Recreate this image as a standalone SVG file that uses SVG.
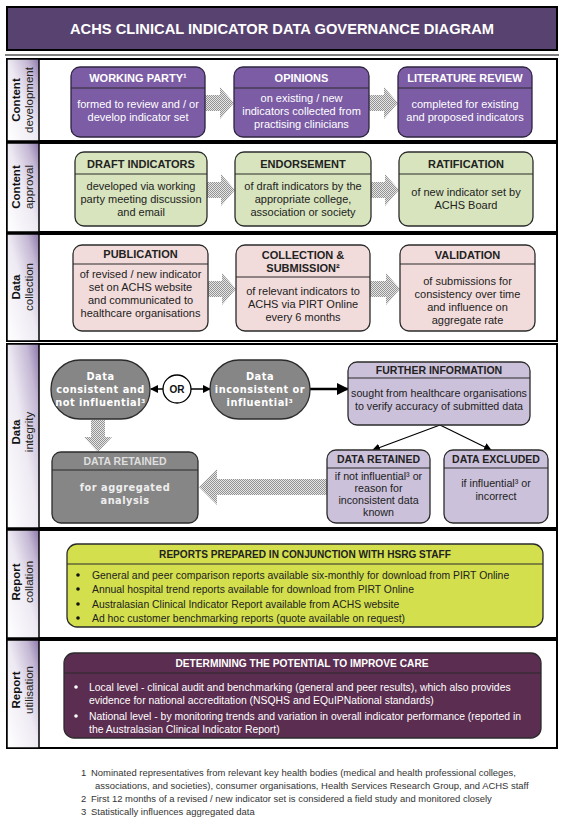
<svg xmlns="http://www.w3.org/2000/svg" width="564" height="823" viewBox="0 0 564 823">
<style>
text{font-family:"Liberation Sans",Arial,sans-serif;}
.sec{fill:#fff;stroke:#000;stroke-width:2;}
.lbl{fill:url(#lblg);stroke:#000;stroke-width:1.5;}
.lb{font-size:11.5px;font-weight:bold;fill:#111;text-anchor:middle;}
.ln{font-size:11.5px;fill:#222;text-anchor:middle;}
.p{fill:#7b5ca5;stroke:#2e2440;stroke-width:1.3;}
.g{fill:#d7e4bd;stroke:#2b2b2b;stroke-width:1.3;}
.k{fill:#f2dcdb;stroke:#2b2b2b;stroke-width:1.3;}
.v{fill:#ccc1da;stroke:#2b2b2b;stroke-width:1.3;}
.gr{fill:#868686;stroke:#2b2b2b;stroke-width:1.3;}
.y{fill:#d3df4c;stroke:#2b2b2b;stroke-width:1.3;}
.m{fill:#5b2d50;stroke:#2b2b2b;stroke-width:1.3;}
.dv{stroke:#2b2b2b;stroke-width:1.2;}
.hw{font-size:11px;font-weight:bold;fill:#fff;text-anchor:middle;}
.bw{font-size:11px;fill:#fff;text-anchor:middle;}
.hd{font-size:11px;font-weight:bold;fill:#222;text-anchor:middle;}
.bd{font-size:11px;fill:#222;text-anchor:middle;}
.hs{font-size:10.5px;font-weight:bold;fill:#222;text-anchor:middle;}
.sm{font-size:10.7px;fill:#222;text-anchor:middle;}
.st{font-family:"DejaVu Sans",Verdana,sans-serif;font-size:9.8px;font-weight:bold;fill:#fff;text-anchor:middle;letter-spacing:0.5px;}
.ha{fill:url(#hatch);}
.li{font-size:10.4px;fill:#222;}
.lw{font-size:10.4px;fill:#fff;}
.fn{font-size:9.45px;fill:#333;}
</style>
<defs>
<linearGradient id="lblg" x1="0" y1="1" x2="1" y2="0">
<stop offset="0" stop-color="#ffffff"/>
<stop offset="0.5" stop-color="#eeeaf3"/>
<stop offset="0.8" stop-color="#c4b8d4"/>
<stop offset="1" stop-color="#8c77a9"/>
</linearGradient>
<pattern id="hatch" width="2" height="2" patternUnits="userSpaceOnUse">
<rect width="2" height="2" fill="#e6e6e6"/>
<rect width="1" height="1" fill="#939393"/>
<rect x="1" y="1" width="1" height="1" fill="#939393"/>
</pattern>
<marker id="ah" markerWidth="8" markerHeight="8" refX="7" refY="4" orient="auto" markerUnits="userSpaceOnUse">
<path d="M0,0 L8,4 L0,8 z" fill="#000"/>
</marker>
<marker id="ahb" markerWidth="12" markerHeight="12" refX="11" refY="6" orient="auto" markerUnits="userSpaceOnUse">
<path d="M0,0 L12,6 L0,12 z" fill="#000"/>
</marker>
</defs>
<rect width="564" height="823" fill="#fff"/>

<g id="title">
<rect x="7" y="7" width="550" height="43" fill="#584270" stroke="#000" stroke-width="2"/>
<text x="282" y="33.5" font-size="14.7" font-weight="bold" fill="#fff" text-anchor="middle">ACHS CLINICAL INDICATOR DATA GOVERNANCE DIAGRAM</text>
</g>
<line x1="5" y1="55" x2="559" y2="55" stroke="#000" stroke-width="1.2"/>

<g id="sections">
<rect class="sec" x="7" y="59" width="550" height="82"/>
<rect class="lbl" x="7" y="59" width="32" height="82"/>
<text class="lb" transform="translate(20,100) rotate(-90)">Content</text>
<text class="ln" transform="translate(32.5,100) rotate(-90)">development</text>

<rect class="sec" x="7" y="143" width="550" height="89"/>
<rect class="lbl" x="7" y="143" width="32" height="89"/>
<text class="lb" transform="translate(20,187) rotate(-90)">Content</text>
<text class="ln" transform="translate(32.5,187) rotate(-90)">approval</text>

<rect class="sec" x="7" y="234" width="550" height="107"/>
<rect class="lbl" x="7" y="234" width="32" height="107"/>
<text class="lb" transform="translate(20,287) rotate(-90)">Data</text>
<text class="ln" transform="translate(32.5,287) rotate(-90)">collection</text>

<rect class="sec" x="7" y="344" width="550" height="184"/>
<rect class="lbl" x="7" y="344" width="32" height="184"/>
<text class="lb" transform="translate(20,432) rotate(-90)">Data</text>
<text class="ln" transform="translate(32.5,432) rotate(-90)">integrity</text>

<rect class="sec" x="7" y="530" width="550" height="108"/>
<rect class="lbl" x="7" y="530" width="32" height="108"/>
<text class="lb" transform="translate(20,582) rotate(-90)">Report</text>
<text class="ln" transform="translate(32.5,582) rotate(-90)">collation</text>

<rect class="sec" x="7" y="640" width="550" height="108"/>
<rect class="lbl" x="7" y="640" width="32" height="108"/>
<text class="lb" transform="translate(20,690) rotate(-90)">Report</text>
<text class="ln" transform="translate(32.5,690) rotate(-90)">utilisation</text>
</g>

<g id="connectors">
<path class="ha" d="M205,95 L220,95 L220,87 L234,103 L220,119 L220,111 L205,111 Z"/>
<path class="ha" d="M369,95 L384,95 L384,87 L398,103 L384,119 L384,111 L369,111 Z"/>
<path class="ha" d="M207,182 L221,182 L221,174 L235,190 L221,206 L221,198 L207,198 Z"/>
<path class="ha" d="M371,182 L385,182 L385,174 L399,190 L385,206 L385,198 L371,198 Z"/>
<path class="ha" d="M208,281 L222,281 L222,273 L236,289 L222,305 L222,297 L208,297 Z"/>
<path class="ha" d="M370,281 L386,281 L386,273 L400,289 L386,305 L386,297 L370,297 Z"/>
<path class="ha" d="M91,420 L91,437 L84,437 L98,452 L112,437 L105,437 L105,420 Z"/>
<path class="ha" d="M327,479 L217,479 L217,469 L199,487 L217,505 L217,495 L327,495 Z"/>
<line x1="163" y1="389" x2="151" y2="389" stroke="#000" stroke-width="1.5" marker-end="url(#ah)"/>
<line x1="191" y1="389" x2="210" y2="389" stroke="#000" stroke-width="1.5" marker-end="url(#ah)"/>
<line x1="310" y1="389" x2="348" y2="389" stroke="#000" stroke-width="2.5" marker-end="url(#ahb)"/>
<line x1="440" y1="425" x2="373" y2="450" stroke="#000" stroke-width="1.2" marker-end="url(#ah)"/>
<line x1="440" y1="425" x2="491" y2="450" stroke="#000" stroke-width="1.2" marker-end="url(#ah)"/>
</g>

<g id="working-party">
<rect class="p" x="71" y="67" width="134" height="70" rx="9"/>
<line class="dv" x1="71" y1="88" x2="205" y2="88"/>
<text class="hw" x="138" y="81.5">WORKING PARTY¹</text>
<text class="bw" x="138" y="108">formed  to review and / or</text>
<text class="bw" x="138" y="121">develop indicator set</text>
</g>
<g id="opinions">
<rect class="p" x="234" y="67" width="135" height="70" rx="9"/>
<line class="dv" x1="234" y1="88" x2="369" y2="88"/>
<text class="hw" x="301.5" y="81.5">OPINIONS</text>
<text class="bw" x="301.5" y="102">on existing / new</text>
<text class="bw" x="301.5" y="115">indicators collected from</text>
<text class="bw" x="301.5" y="128">practising clinicians</text>
</g>
<g id="literature-review">
<rect class="p" x="398" y="67" width="134" height="70" rx="9"/>
<line class="dv" x1="398" y1="88" x2="532" y2="88"/>
<text class="hw" x="465" y="81.5">LITERATURE REVIEW</text>
<text class="bw" x="465" y="108">completed for existing</text>
<text class="bw" x="465" y="121">and proposed indicators</text>
</g>

<g id="draft-indicators">
<rect class="g" x="75" y="152" width="132" height="74" rx="9"/>
<line class="dv" x1="75" y1="174" x2="207" y2="174"/>
<text class="hd" x="141" y="168">DRAFT INDICATORS</text>
<text class="bd" x="141" y="190">developed via working</text>
<text class="bd" x="141" y="203">party meeting discussion</text>
<text class="bd" x="141" y="216">and email</text>
</g>
<g id="endorsement">
<rect class="g" x="235" y="152" width="136" height="74" rx="9"/>
<line class="dv" x1="235" y1="174" x2="371" y2="174"/>
<text class="hd" x="303" y="168">ENDORSEMENT</text>
<text class="bd" x="303" y="190">of draft indicators by the</text>
<text class="bd" x="303" y="203">appropriate college,</text>
<text class="bd" x="303" y="216">association or society</text>
</g>
<g id="ratification">
<rect class="g" x="399" y="152" width="134" height="74" rx="9"/>
<line class="dv" x1="399" y1="174" x2="533" y2="174"/>
<text class="hd" x="466" y="168">RATIFICATION</text>
<text class="bd" x="466" y="196">of new indicator set by</text>
<text class="bd" x="466" y="209">ACHS Board</text>
</g>

<g id="publication">
<rect class="k" x="73" y="245" width="135" height="86" rx="9"/>
<line class="dv" x1="73" y1="264" x2="208" y2="264"/>
<text class="hd" x="140.5" y="258">PUBLICATION</text>
<text class="bd" x="140.5" y="278">of revised / new indicator</text>
<text class="bd" x="140.5" y="291">set on ACHS website</text>
<text class="bd" x="140.5" y="304">and communicated to</text>
<text class="bd" x="140.5" y="317">healthcare organisations</text>
</g>
<g id="collection-submission">
<rect class="k" x="236" y="245" width="134" height="86" rx="9"/>
<line class="dv" x1="236" y1="277" x2="370" y2="277"/>
<text class="hd" x="303" y="259">COLLECTION &amp;</text>
<text class="hd" x="303" y="272">SUBMISSION²</text>
<text class="bd" x="303" y="295">of relevant indicators to</text>
<text class="bd" x="303" y="308">ACHS via PIRT Online</text>
<text class="bd" x="303" y="321">every 6 months</text>
</g>
<g id="validation">
<rect class="k" x="400" y="245" width="135" height="86" rx="9"/>
<line class="dv" x1="400" y1="264" x2="535" y2="264"/>
<text class="hd" x="467.5" y="259">VALIDATION</text>
<text class="bd" x="467.5" y="285">of submissions for</text>
<text class="bd" x="467.5" y="298">consistency over time</text>
<text class="bd" x="467.5" y="311">and influence on</text>
<text class="bd" x="467.5" y="324">aggregate rate</text>
</g>

<g id="data-consistent">
<rect class="gr" x="51" y="360" width="99" height="59" rx="29"/>
<text class="st" x="100.5" y="380">Data</text>
<text class="st" x="100.5" y="393">consistent and</text>
<text class="st" x="100.5" y="406">not  influential³</text>
</g>
<g id="or">
<circle cx="177" cy="389" r="14" fill="#fff" stroke="#000" stroke-width="1.3"/>
<text x="177" y="393" font-size="10" font-weight="bold" fill="#111" text-anchor="middle">OR</text>
</g>
<g id="data-inconsistent">
<rect class="gr" x="210" y="360" width="100" height="59" rx="29"/>
<text class="st" x="260" y="380">Data</text>
<text class="st" x="260" y="393">inconsistent or</text>
<text class="st" x="260" y="406">influential³</text>
</g>
<g id="further-information">
<rect class="v" x="348" y="362" width="182" height="63" rx="9"/>
<line class="dv" x1="348" y1="378" x2="530" y2="378"/>
<text class="hs" x="439" y="373.5">FURTHER INFORMATION</text>
<text class="sm" x="439" y="397">sought from healthcare organisations</text>
<text class="sm" x="439" y="410">to verify accuracy of submitted data</text>
</g>
<g id="data-retained-grey">
<rect class="gr" x="52" y="452" width="146" height="71" rx="9"/>
<line class="dv" x1="52" y1="470" x2="198" y2="470"/>
<text x="125" y="465" font-size="10.5" font-weight="bold" fill="#dedede" text-anchor="middle">DATA RETAINED</text>
<text class="st" x="125" y="491" style="fill:#eeeeee">for aggregated</text>
<text class="st" x="125" y="504" style="fill:#eeeeee">analysis</text>
</g>
<g id="data-retained">
<rect class="v" x="327" y="450" width="103" height="73" rx="9"/>
<line class="dv" x1="327" y1="468" x2="430" y2="468"/>
<text class="hs" x="378.5" y="463">DATA RETAINED</text>
<text class="sm" x="378.5" y="480">if not influential³ or</text>
<text class="sm" x="378.5" y="492">reason for</text>
<text class="sm" x="378.5" y="504">inconsistent data</text>
<text class="sm" x="378.5" y="516">known</text>
</g>
<g id="data-excluded">
<rect class="v" x="444" y="450" width="104" height="73" rx="9"/>
<line class="dv" x1="444" y1="468" x2="548" y2="468"/>
<text class="hs" x="496" y="463">DATA EXCLUDED</text>
<text class="sm" x="496" y="487">if influential³ or</text>
<text class="sm" x="496" y="500">incorrect</text>
</g>

<g id="reports-prepared">
<rect class="y" x="67" y="544" width="476" height="83" rx="10"/>
<line class="dv" x1="67" y1="564" x2="543" y2="564"/>
<text class="hd" x="305" y="558" style="font-size:10.1px">REPORTS PREPARED IN CONJUNCTION WITH HSRG STAFF</text>
<circle cx="78" cy="575" r="1.8" fill="#111"/>
<circle cx="78" cy="589" r="1.8" fill="#111"/>
<circle cx="78" cy="604" r="1.8" fill="#111"/>
<circle cx="78" cy="618" r="1.8" fill="#111"/>
<text class="li" x="92" y="578.5">General and peer comparison reports available six-monthly for download from PIRT Online</text>
<text class="li" x="92" y="592.5">Annual hospital trend reports available for download from PIRT Online</text>
<text class="li" x="92" y="607.5">Australasian Clinical Indicator Report  available from ACHS website</text>
<text class="li" x="92" y="621.5">Ad hoc customer benchmarking reports (quote available on request)</text>
</g>

<g id="improve-care">
<rect class="m" x="64" y="653" width="477" height="85" rx="10"/>
<line class="dv" x1="64" y1="673" x2="541" y2="673"/>
<text class="hw" x="302" y="667" style="font-size:10.2px">DETERMINING THE POTENTIAL TO IMPROVE CARE</text>
<circle cx="76" cy="687" r="1.8" fill="#fff"/>
<circle cx="76" cy="716" r="1.8" fill="#fff"/>
<text class="lw" x="89" y="690.5">Local level - clinical audit and benchmarking (general and peer results), which also provides</text>
<text class="lw" x="89" y="704">evidence for national accreditation (NSQHS and EQuIPNational standards)</text>
<text class="lw" x="89" y="719.5">National level - by monitoring trends and variation in overall indicator performance (reported in</text>
<text class="lw" x="89" y="733">the Australasian Clinical Indicator Report)</text>
</g>

<g id="footnotes">
<text class="fn" x="81" y="776">1</text>
<text class="fn" x="91" y="776">Nominated representatives from relevant key health bodies (medical and health professional colleges,</text>
<text class="fn" x="95" y="789">associations, and societies),  consumer organisations, Health Services Research Group, and ACHS  staff</text>
<text class="fn" x="81" y="802">2</text>
<text class="fn" x="91" y="802">First 12 months of a revised / new indicator set is considered a field study and monitored closely</text>
<text class="fn" x="81" y="815">3</text>
<text class="fn" x="91" y="815">Statistically influences aggregated data</text>
</g>
</svg>
